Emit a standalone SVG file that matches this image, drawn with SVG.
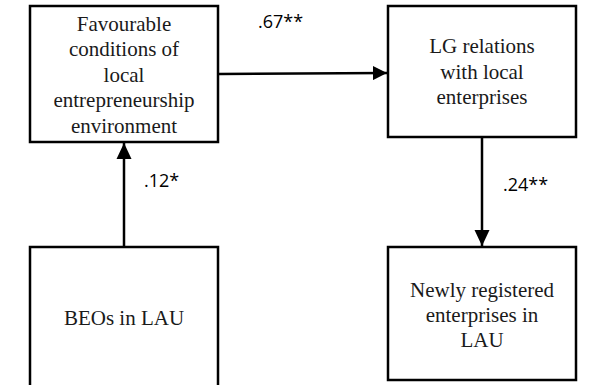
<svg xmlns="http://www.w3.org/2000/svg" width="590" height="385" viewBox="0 0 590 385">
<style>
.box{fill:#fff;stroke:#000;stroke-width:2.5}
.t{font-size:21px;fill:#1a1a1a;text-anchor:middle}
.lbl{font-size:18px;fill:#000}
.ln{stroke:#000;stroke-width:2.5;fill:none}
</style>
<defs>
<marker id="ah" viewBox="0 0 14 14" refX="14" refY="7" markerWidth="14" markerHeight="14" markerUnits="userSpaceOnUse" orient="auto">
<path d="M0,0 L14,7 L0,14 Z" fill="#000"/>
</marker>
<marker id="av" viewBox="0 0 16 16" refX="16" refY="8" markerWidth="16" markerHeight="16" markerUnits="userSpaceOnUse" orient="auto">
<path d="M0,0.5 L16,8 L0,15.5 Z" fill="#000"/>
</marker>
</defs>
<g id="connectors">
<line class="ln" x1="219" y1="74" x2="387" y2="73" marker-end="url(#ah)"/>
<line class="ln" x1="124" y1="247" x2="124" y2="143" marker-end="url(#av)"/>
<line class="ln" x1="482" y1="137" x2="482" y2="246" marker-end="url(#av)"/>
<g font-family="Open Sans, Liberation Sans, sans-serif">
<text class="lbl" x="258" y="28">.67**</text>
<text class="lbl" x="144" y="187">.12*</text>
<text class="lbl" x="503" y="191">.24**</text>
</g>
</g>
<g font-family="Liberation Serif, Times New Roman, DejaVu Serif, serif">
<g id="favourable">
<rect class="box" x="30" y="6" width="188" height="136"/>
<text class="t" x="124" y="31">Favourable</text>
<text class="t" x="124" y="56">conditions of</text>
<text class="t" x="124" y="82">local</text>
<text class="t" x="124" y="107">entrepreneurship</text>
<text class="t" x="124" y="133">environment</text>
</g>
<g id="lg">
<rect class="box" x="388" y="6" width="188" height="131"/>
<text class="t" x="482" y="53">LG relations</text>
<text class="t" x="482" y="79">with local</text>
<text class="t" x="482" y="104">enterprises</text>
</g>
<g id="beos">
<rect class="box" x="30" y="247" width="188" height="150"/>
<text class="t" x="124" y="325">BEOs in LAU</text>
</g>
<g id="newly">
<rect class="box" x="388" y="247" width="188" height="133"/>
<text class="t" x="482" y="297">Newly registered</text>
<text class="t" x="482" y="322">enterprises in</text>
<text class="t" x="482" y="347">LAU</text>
</g>
</g>
</svg>
